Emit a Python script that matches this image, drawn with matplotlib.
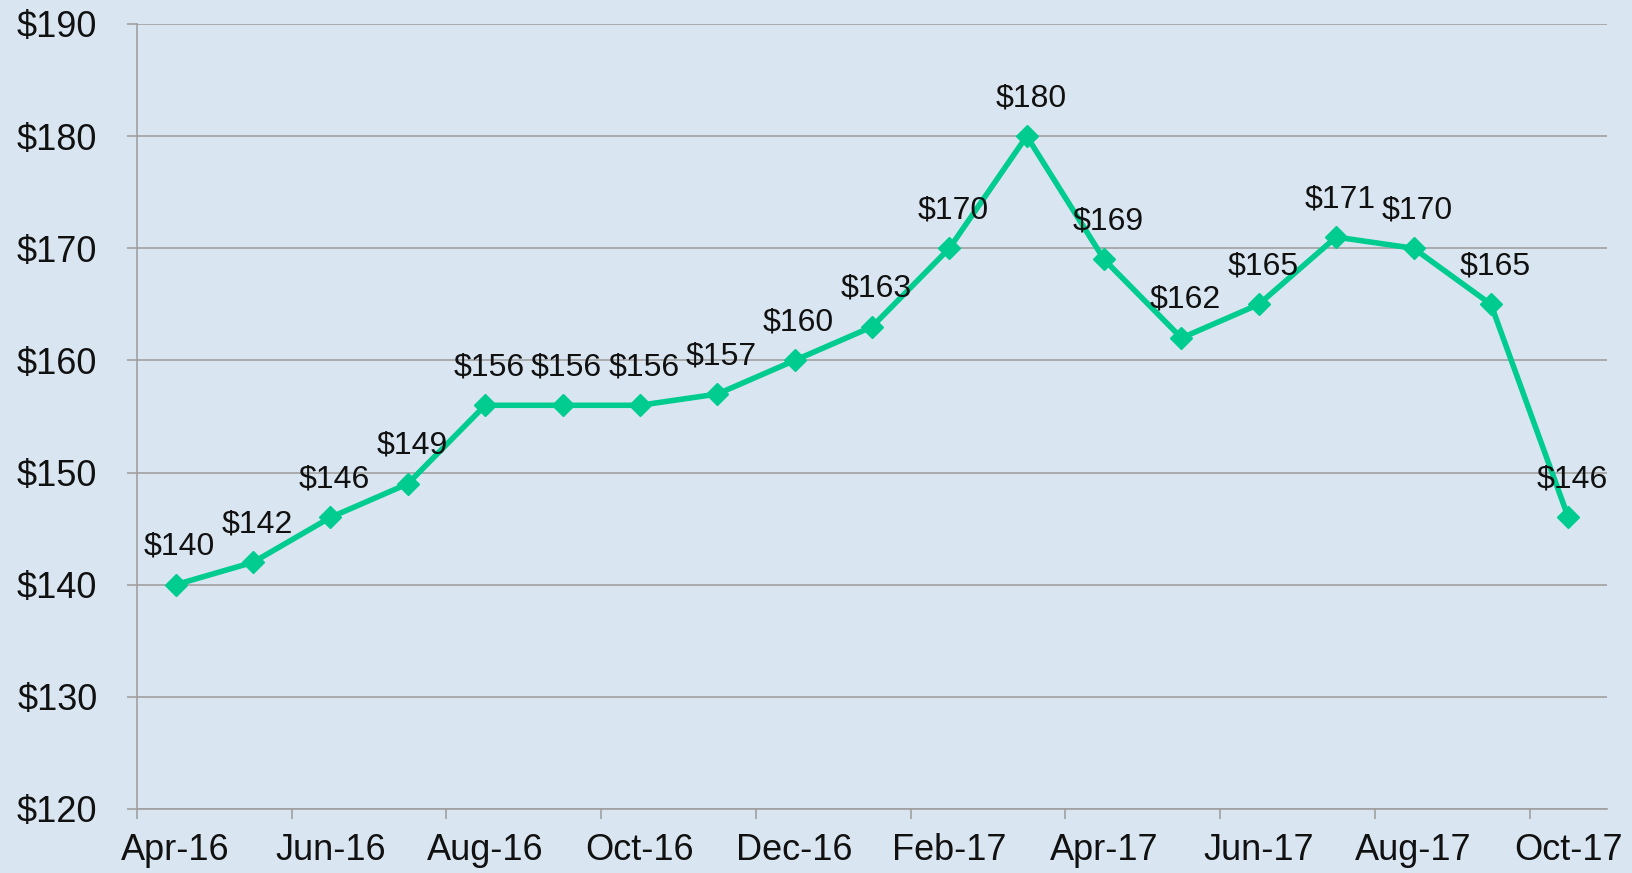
import matplotlib
matplotlib.use("Agg")
import matplotlib.pyplot as plt

# monthly price, Apr-16 .. Oct-17
months = ['Apr-16', 'May-16', 'Jun-16', 'Jul-16', 'Aug-16', 'Sep-16', 'Oct-16',
          'Nov-16', 'Dec-16', 'Jan-17', 'Feb-17', 'Mar-17', 'Apr-17', 'May-17',
          'Jun-17', 'Jul-17', 'Aug-17', 'Sep-17', 'Oct-17']
prices = [140, 142, 146, 149, 156, 156, 156, 157, 160, 163, 170, 180,
          169, 162, 165, 171, 170, 165, 146]
y_ticks = [120, 130, 140, 150, 160, 170, 180, 190]

bg = '#d9e6f1'
grid_col = '#a0a0a0'
line_col = '#00cc8f'

plt.rcParams['font.family'] = ['Liberation Sans', 'DejaVu Sans']

fig = plt.figure(figsize=(16.33, 8.73), dpi=100, facecolor=bg)
ax = fig.add_axes([137 / 1633, 1 - 809 / 873, (1607 - 137) / 1633, (809 - 24) / 873])
ax.set_facecolor(bg)

# each point sits mid-month, tick marks at the start of every second month
x = [i + 0.5 for i in range(len(prices))]
ax.plot(x, prices, color=line_col, lw=4, marker='D', ms=11, zorder=3)

for xi, p in zip(x, prices):
    ax.annotate(f"${p}", (xi, p), xytext=(4, 38), textcoords='offset pixels',
                ha='center', va='center', fontsize=23, color='#111111', zorder=4)

ax.set_xlim(0, len(prices))
ax.set_ylim(120, 190)
# tick marks at month starts, labels centred on the month
ax.set_xticks(range(0, len(prices), 2))
ax.set_xticklabels([])
ax.set_xticks([i + 0.5 for i in range(0, len(prices), 2)], minor=True)
ax.set_xticklabels(months[::2], minor=True)
ax.set_yticks(y_ticks)
ax.set_yticklabels([f"${v}" for v in y_ticks])

ax.grid(axis='y', color=grid_col, lw=1.2)
ax.set_axisbelow(True)
for s in ['top', 'right']:
    ax.spines[s].set_visible(False)
for s in ['left', 'bottom']:
    ax.spines[s].set_color(grid_col)
    ax.spines[s].set_linewidth(1.2)

ax.tick_params(axis='both', colors=grid_col, length=7.5, width=1.2, labelsize=26,
               labelcolor='#111111')
ax.tick_params(axis='y', pad=21)
ax.tick_params(axis='x', which='minor', length=0, pad=17, labelsize=26,
               labelcolor='#111111')

fig.savefig('out.png', dpi=100, facecolor=bg)
